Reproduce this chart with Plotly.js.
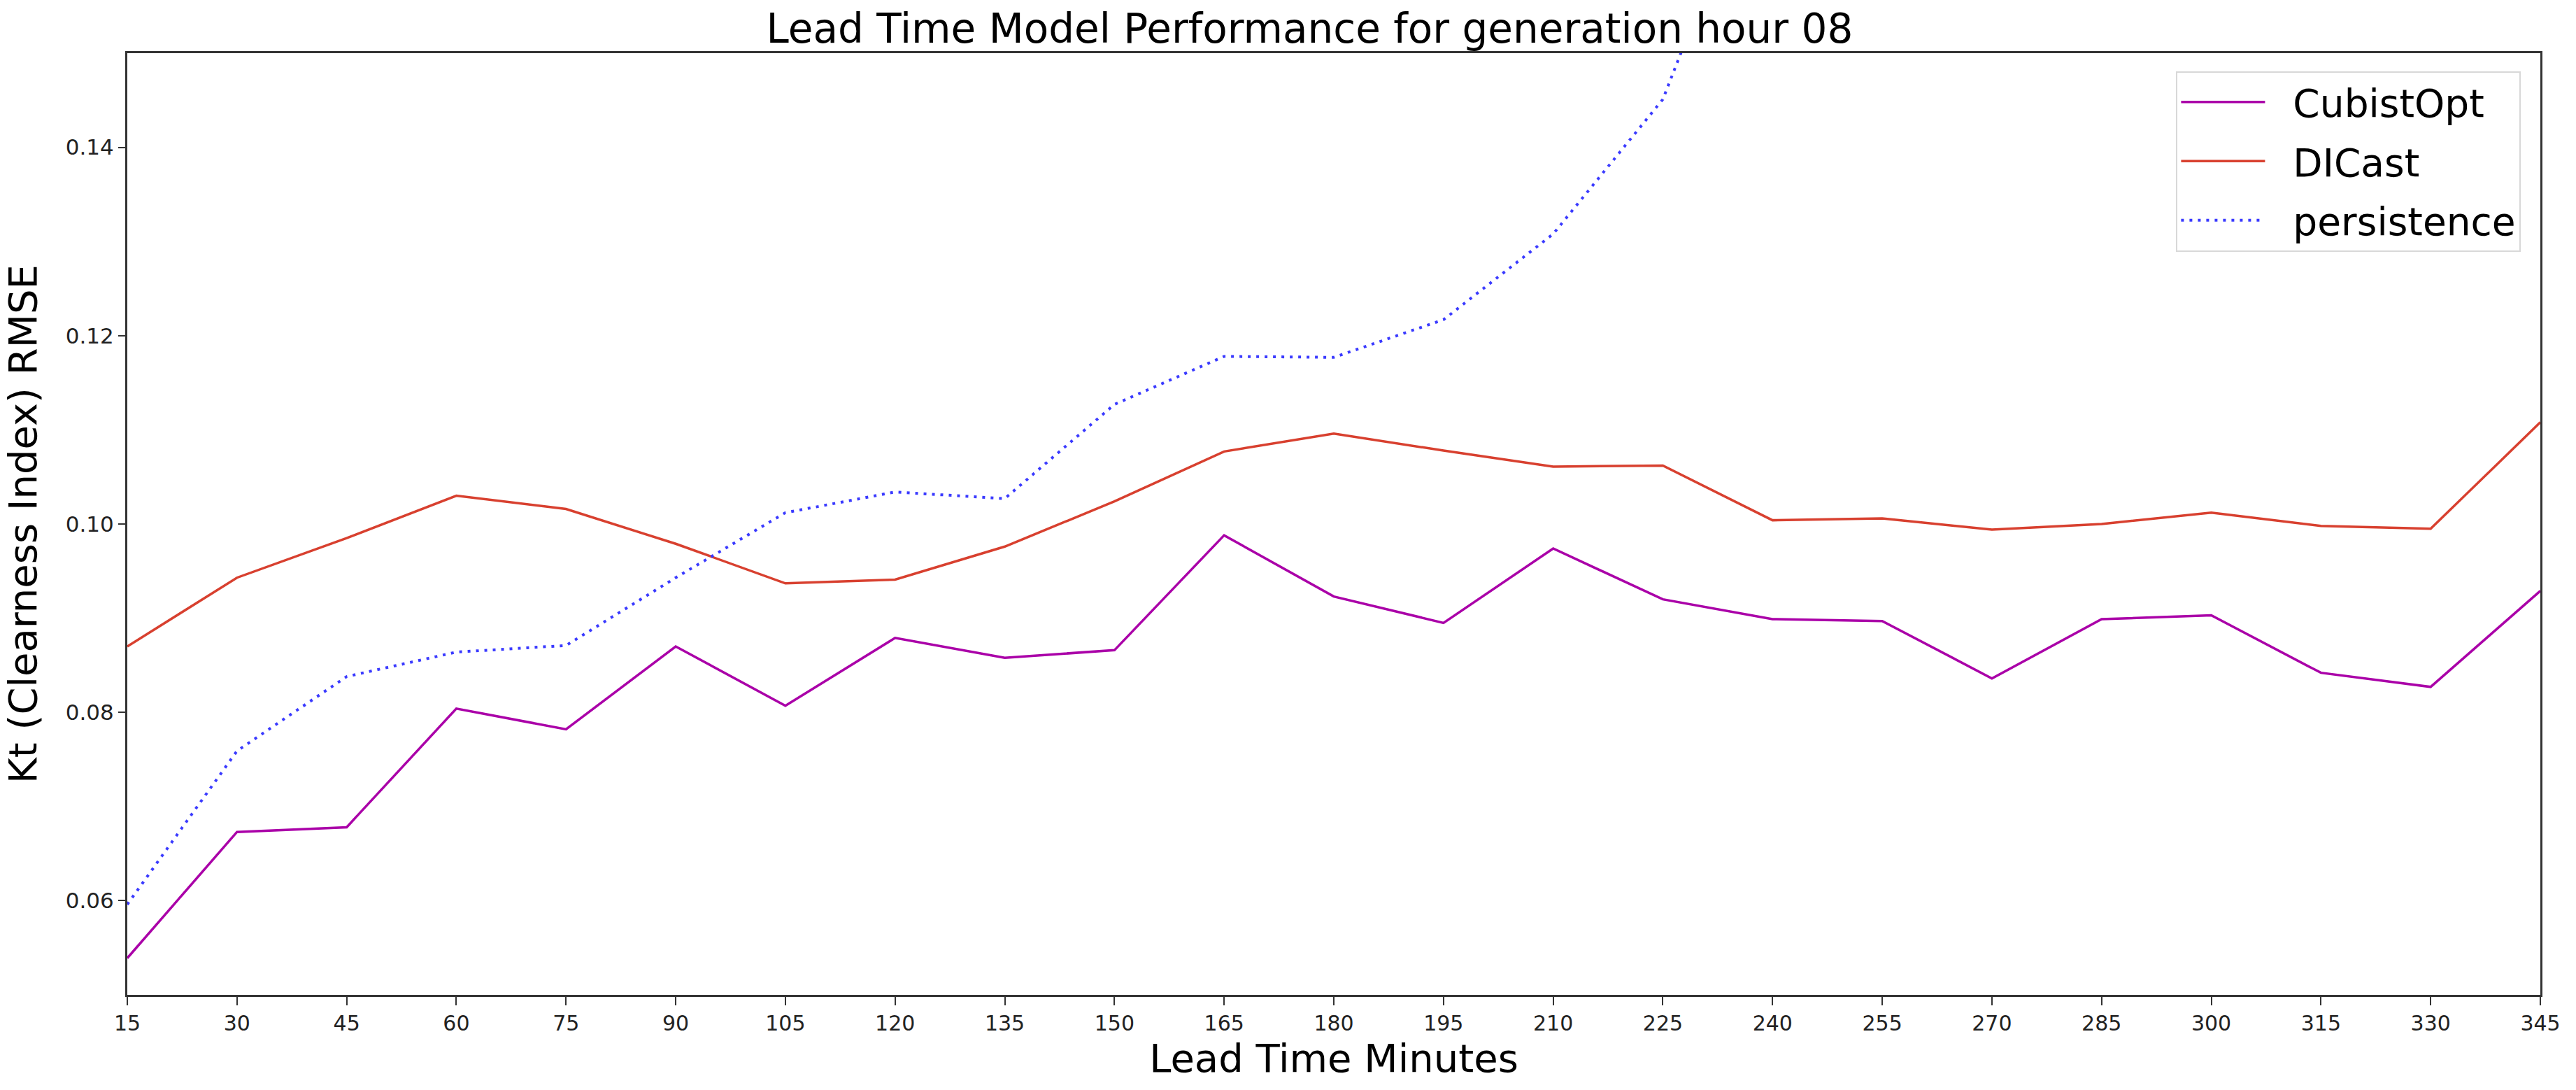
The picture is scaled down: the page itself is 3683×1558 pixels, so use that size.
<!DOCTYPE html>
<html>
<head>
<meta charset="utf-8">
<script src="https://cdn.plot.ly/plotly-3.0.1.min.js"></script>
<style>
html,body{margin:0;padding:0;background:#fff;}
#chart{width:3683px;height:1558px;}
</style>
</head>
<body>
<div id="chart"></div>
<script>
// Lead time (minutes)
const leadTimes = [15,30,45,60,75,90,105,120,135,150,165,180,195,210,225,240,255,270,285,300,315,330,345];
const tickLabels = ["15","30","45","60","75","90","105","120","135","150","165","180","195","210","225","240","255","270","285","300","315","330","345"];

// Kt RMSE values
const cubistOpt = [0.0539,0.0673,0.0678,0.0804,0.0782,0.0870,0.0807,0.0879,0.0858,0.0866,0.0988,0.0923,0.0895,0.0974,0.0920,0.0899,0.0897,0.0836,0.0899,0.0903,0.0842,0.0827,0.0929];
const diCast    = [0.0870,0.0943,0.0985,0.1030,0.1016,0.0979,0.0937,0.0941,0.0976,0.1024,0.1077,0.1096,0.1078,0.1061,0.1062,0.1004,0.1006,0.0994,0.1000,0.1012,0.0998,0.0995,0.1108];
// persistence leaves the visible range after 225 minutes
const persistenceTimes = [15,30,45,60,75,90,105,120,135,150,165,180,195,210,225,240];
const persistence = [0.0596,0.0759,0.0838,0.0864,0.0871,0.0943,0.1012,0.1034,0.1027,0.1127,0.1178,0.1177,0.1217,0.1308,0.1451,0.1750];

const seriesNames = ['CubistOpt','DICast','persistence'];
const yTicks = [0.06,0.08,0.10,0.12,0.14];

const FONT = 'DejaVu Sans, sans-serif';
const GAP = '\u00A0\u00A0';

const traces = [
  {x: leadTimes, y: cubistOpt, name: GAP + seriesNames[0], legendgroup: 'a', type: 'scatter', mode: 'lines',
   line: {color: '#aa00a8', width: 3.5}},
  {x: leadTimes, y: diCast, name: GAP + seriesNames[1], legendgroup: 'b', type: 'scatter', mode: 'lines',
   line: {color: '#d8402f', width: 3.5}},
  {x: persistenceTimes, y: persistence, name: GAP + seriesNames[2], legendgroup: 'c', type: 'scatter', mode: 'lines',
   line: {color: '#3a3aff', width: 4, dash: '4px,8px'}}
];

const layout = {
  width: 3683, height: 1558,
  paper_bgcolor: '#fff', plot_bgcolor: '#fff',
  margin: {l: 182, r: 51, t: 76, b: 136, pad: 0},
  font: {family: FONT, color: '#000'},
  title: {text: 'Lead Time Model Performance for generation hour 08',
          font: {family: FONT, size: 58, color: '#000'},
          xref: 'paper', x: 0.49, xanchor: 'center',
          yref: 'container', y: 0.974, yanchor: 'middle'},
  xaxis: {
    range: [15, 345], tickmode: 'array', tickvals: leadTimes, ticktext: tickLabels,
    showgrid: false, zeroline: false,
    showline: true, mirror: true, linecolor: '#333', linewidth: 3,
    ticks: 'outside', ticklen: 12, tickwidth: 2, tickcolor: '#333',
    tickfont: {family: FONT, size: 30, color: '#222'},
    title: {text: 'Lead Time Minutes', font: {family: FONT, size: 56, color: '#000'}, standoff: 8}
  },
  yaxis: {
    range: [0.05, 0.15], tickmode: 'array', tickvals: yTicks, tickformat: '.2f',
    showgrid: false, zeroline: false,
    showline: true, mirror: true, linecolor: '#333', linewidth: 3,
    ticks: 'outside', ticklen: 10, tickwidth: 2, tickcolor: '#333',
    tickfont: {family: FONT, size: 31, color: '#222'},
    title: {text: 'Kt (Clearness Index) RMSE', font: {family: FONT, size: 56, color: '#000'}, standoff: 30}
  },
  showlegend: true,
  legend: {
    x: 0.992, y: 0.981, xanchor: 'right', yanchor: 'top',
    traceorder: 'grouped', tracegroupgap: 10,
    bgcolor: 'rgba(255,255,255,0.9)', bordercolor: '#d8d8d8', borderwidth: 2,
    font: {family: FONT, size: 55, color: '#000'},
    itemwidth: 120
  }
};

Plotly.newPlot('chart', traces, layout, {staticPlot: true, displayModeBar: false});
</script>
</body>
</html>
